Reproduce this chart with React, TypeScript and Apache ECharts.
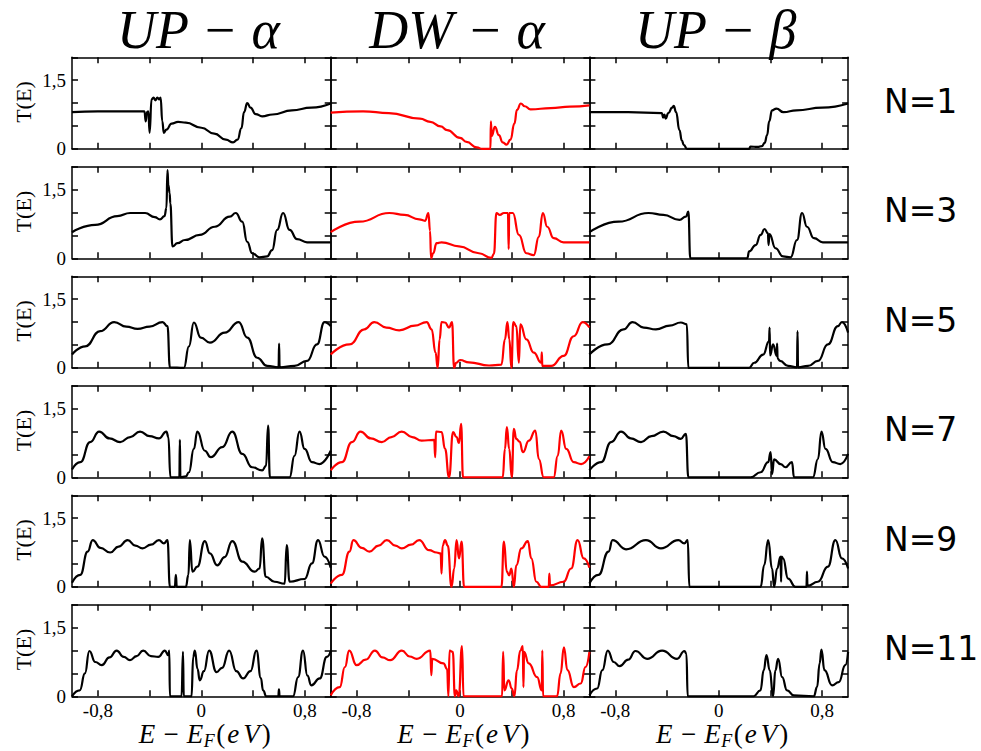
import React, { useEffect, useRef } from "react";
import * as echarts from "echarts";

// ---------- tick / label values ----------
const xTickValues = [-0.8, -0.4, 0, 0.4, 0.8];
const xLabelValues = [-0.8, 0, 0.8];
const yLabelValues = [0, 1.5];
const columnTitles = ["UP − α", "DW − α", "UP − β"];
const rowLabels = ["N=1", "N=3", "N=5", "N=7", "N=9", "N=11"];
const columnColors = ["#000000", "#ff0000", "#000000"];

// ---------- data: [E - E_F (eV), T(E)] ----------
const UPa_N1 = [[-1,0.8],[-0.8,0.82],[-0.6,0.82],[-0.44,0.82],[-0.43,0.6],[-0.42,0.8],[-0.41,0.82],[-0.4,0.35],[-0.385,1.08],[-0.37,1.12],[-0.355,1.06],[-0.34,1.12],[-0.325,1.08],[-0.315,1.12],[-0.302,0.6],[-0.29,0.35],[-0.27,0.42],[-0.23,0.55],[-0.18,0.59],[-0.12,0.57],[0,0.46],[0.1,0.33],[0.19,0.2],[0.245,0.14],[0.28,0.2],[0.31,0.45],[0.33,0.8],[0.355,1.0],[0.38,0.9],[0.42,0.76],[0.47,0.71],[0.55,0.75],[0.7,0.84],[0.85,0.9],[1,0.99]];
const DWa_N1 = [[-1,0.79],[-0.75,0.82],[-0.55,0.78],[-0.31,0.66],[-0.23,0.59],[-0.15,0.49],[-0.1,0.41],[0,0.24],[0.05,0.15],[0.13,0.03],[0.17,0],[0.235,0],[0.238,0.6],[0.245,0.28],[0.27,0.48],[0.3,0.3],[0.33,0.14],[0.36,0.09],[0.39,0.2],[0.42,0.55],[0.44,0.85],[0.47,0.99],[0.5,0.93],[0.545,0.86],[0.7,0.89],[0.85,0.92],[1,0.95]];
const UPb_N1 = [[-1,0.8],[-0.7,0.8],[-0.44,0.78],[-0.43,0.68],[-0.42,0.75],[-0.41,0.66],[-0.39,0.78],[-0.36,0.9],[-0.348,0.94],[-0.33,0.8],[-0.304,0.41],[-0.285,0.18],[-0.27,0.08],[-0.245,0],[0.235,0],[0.245,0.05],[0.3,0.04],[0.335,0.06],[0.355,0.13],[0.374,0.3],[0.39,0.6],[0.412,0.84],[0.446,0.88],[0.5,0.8],[0.6,0.84],[0.8,0.9],[1,0.99]];

const UPa_N3 = [[-1,0.57],[-0.82,0.73],[-0.65,0.92],[-0.55,0.99],[-0.435,0.99],[-0.36,0.9],[-0.32,0.85],[-0.285,0.92],[-0.27,1.1],[-0.262,1.93],[-0.255,1.6],[-0.245,1.42],[-0.24,1.2],[-0.223,0.26],[-0.185,0.33],[-0.127,0.4],[-0.012,0.51],[0.104,0.69],[0.22,0.91],[0.266,0.99],[0.316,0.8],[0.355,0.36],[0.393,0.11],[0.45,0.02],[0.509,0.04],[0.547,0.18],[0.586,0.62],[0.632,0.99],[0.682,0.62],[0.74,0.42],[0.817,0.35],[1,0.35]];
const DWa_N3 = [[-1,0.57],[-0.778,0.8],[-0.547,0.99],[-0.43,0.95],[-0.316,0.85],[-0.27,0.82],[-0.245,0.99],[-0.232,0.6],[-0.224,0],[-0.208,0.11],[-0.181,0.33],[-0.143,0.35],[-0.008,0.26],[0.146,0.11],[0.243,0.01],[0.262,0.1],[0.281,0.99],[0.308,0.95],[0.339,0.99],[0.37,0.99],[0.376,0.2],[0.38,0.99],[0.408,0.99],[0.455,0.51],[0.513,0.11],[0.57,0.07],[0.609,0.47],[0.64,0.99],[0.674,0.69],[0.724,0.44],[0.8,0.35],[1,0.35]];
const UPb_N3 = [[-1,0.57],[-0.775,0.8],[-0.543,0.99],[-0.428,0.95],[-0.304,0.84],[-0.254,0.91],[-0.235,1.02],[-0.22,0],[0.22,0],[0.235,0.15],[0.285,0.29],[0.324,0.51],[0.354,0.64],[0.38,0.55],[0.385,0.29],[0.392,0.53],[0.439,0.22],[0.497,0.04],[0.555,0.02],[0.605,0.4],[0.644,0.99],[0.682,0.69],[0.736,0.44],[0.805,0.35],[1,0.35]];

const UPa_N5 = [[-1,0.29],[-0.898,0.47],[-0.782,0.8],[-0.674,1.0],[-0.58,0.9],[-0.493,0.85],[-0.4,0.9],[-0.3,1.0],[-0.262,0.91],[-0.243,0.01],[-0.135,0],[-0.096,0.47],[-0.058,0.99],[-0.004,0.66],[0.066,0.55],[0.181,0.77],[0.289,1.0],[0.355,0.66],[0.432,0.22],[0.509,0.04],[0.597,0.01],[0.601,0.53],[0.605,0.01],[0.72,0.04],[0.817,0.15],[0.894,0.51],[0.952,1.0],[1,0.91]];
const DWa_N5 = [[-1,0.29],[-0.855,0.51],[-0.74,0.84],[-0.663,1.0],[-0.57,0.88],[-0.47,0.82],[-0.35,0.92],[-0.258,1.0],[-0.22,0.84],[-0.189,0.33],[-0.173,0],[-0.158,0.62],[-0.143,1.0],[-0.116,0.99],[-0.085,0.88],[-0.062,1.0],[-0.046,0],[-0.03,0.11],[0,0.17],[0.069,0.12],[0.224,0.05],[0.32,0.07],[0.347,0.62],[0.366,1.0],[0.381,0.62],[0.397,0],[0.412,1.0],[0.435,0.91],[0.455,0.11],[0.466,0.95],[0.513,0.62],[0.57,0.33],[0.628,0.11],[0.632,0.34],[0.636,0.04],[0.705,0.04],[0.801,0.26],[0.879,0.69],[0.948,1.0],[1,0.88]];
const UPb_N5 = [[-1,0.29],[-0.86,0.51],[-0.736,0.84],[-0.667,1.0],[-0.58,0.88],[-0.486,0.84],[-0.38,0.92],[-0.293,0.99],[-0.247,0.95],[-0.235,0],[0.235,0],[0.274,0.11],[0.343,0.29],[0.389,0.58],[0.393,0.88],[0.397,0.27],[0.42,0.51],[0.448,0.26],[0.451,0.53],[0.455,0.2],[0.474,0.15],[0.536,0.04],[0.605,0.01],[0.609,0.8],[0.613,0.01],[0.69,0.04],[0.767,0.15],[0.844,0.51],[0.921,0.91],[0.952,1.0],[1,0.77]];

const UPa_N7 = [[-1,0.17],[-0.936,0.33],[-0.86,0.77],[-0.79,1.0],[-0.71,0.85],[-0.628,0.77],[-0.55,0.88],[-0.474,1.0],[-0.4,0.9],[-0.328,0.85],[-0.27,1.0],[-0.255,0.88],[-0.239,0],[-0.17,0],[-0.166,0.82],[-0.162,0],[-0.12,0.02],[-0.096,0.11],[-0.058,0.62],[-0.031,1.0],[0.027,0.58],[0.073,0.44],[0.162,0.66],[0.239,1.0],[0.316,0.51],[0.393,0.22],[0.47,0.15],[0.5,0.25],[0.516,1.13],[0.53,0],[0.682,0],[0.72,0.47],[0.759,1.0],[0.798,0.62],[0.855,0.33],[0.913,0.29],[1,0.58]];
const DWa_N7 = [[-1,0.15],[-0.913,0.33],[-0.836,0.77],[-0.77,1.0],[-0.69,0.85],[-0.605,0.77],[-0.53,0.88],[-0.451,1.0],[-0.37,0.88],[-0.297,0.8],[-0.2,0.82],[-0.192,0.44],[-0.186,1.0],[-0.143,0.99],[-0.116,0.62],[-0.085,0],[-0.054,0.99],[-0.027,0.88],[-0.008,0.75],[0.008,1.17],[0.023,0],[0.33,0],[0.347,0.62],[0.362,1.1],[0.38,0.62],[0.4,0],[0.416,1.06],[0.435,0.84],[0.46,0.78],[0.486,0.55],[0.532,0.8],[0.582,1.02],[0.609,0.4],[0.647,0],[0.724,0],[0.755,0.47],[0.782,1.02],[0.821,0.62],[0.879,0.33],[0.936,0.29],[1,0.46]];
const UPb_N7 = [[-1,0.15],[-0.909,0.33],[-0.832,0.77],[-0.755,1.0],[-0.68,0.85],[-0.601,0.77],[-0.52,0.9],[-0.428,1.0],[-0.35,0.9],[-0.293,0.84],[-0.254,0.95],[-0.235,0],[0.247,0],[0.324,0.11],[0.382,0.33],[0.401,0.55],[0.412,0.07],[0.428,0.39],[0.478,0.29],[0.516,0.22],[0.566,0.33],[0.582,0],[0.728,0],[0.767,0.4],[0.794,1.0],[0.825,0.62],[0.882,0.33],[0.94,0.29],[1,0.51]];

const UPa_N9 = [[-1,0.09],[-0.936,0.26],[-0.879,0.77],[-0.84,1.02],[-0.78,0.85],[-0.705,0.75],[-0.64,0.88],[-0.57,1.02],[-0.51,0.9],[-0.455,0.84],[-0.39,0.92],[-0.328,1.02],[-0.289,0.95],[-0.262,1.02],[-0.243,0],[-0.205,0],[-0.197,0.26],[-0.19,0],[-0.12,0],[-0.1,0.26],[-0.089,1.02],[-0.069,0.33],[-0.031,0.44],[0.027,1.0],[0.066,0.73],[0.123,0.47],[0.18,0.65],[0.239,1.0],[0.316,0.55],[0.412,0.33],[0.45,0.4],[0.47,1.06],[0.497,0.22],[0.566,0.11],[0.644,0.07],[0.66,0.91],[0.682,0.11],[0.798,0.17],[0.855,0.51],[0.902,1.02],[0.952,0.66],[1,0.42]];
const DWa_N9 = [[-1,0.07],[-0.913,0.26],[-0.855,0.77],[-0.825,1.02],[-0.76,0.85],[-0.701,0.77],[-0.63,0.9],[-0.566,1.02],[-0.5,0.9],[-0.451,0.84],[-0.38,0.92],[-0.316,1.02],[-0.239,0.8],[-0.181,0.75],[-0.15,0.73],[-0.143,0.29],[-0.135,0.9],[-0.116,1.02],[-0.095,0.9],[-0.066,0],[-0.045,0.4],[-0.027,1.02],[-0.008,0.62],[0.012,0.99],[0.031,0],[0.32,0],[0.339,0.99],[0.362,0.33],[0.38,0.25],[0.397,0.4],[0.416,0],[0.435,0.47],[0.474,0.84],[0.524,1.0],[0.551,0.62],[0.59,0.11],[0.628,0],[0.686,0],[0.69,0.29],[0.696,0.03],[0.801,0.11],[0.859,0.4],[0.909,1.02],[0.956,0.62],[1,0.42]];
const UPb_N9 = [[-1,0.07],[-0.93,0.26],[-0.852,0.77],[-0.821,1.02],[-0.717,0.82],[-0.563,1.02],[-0.447,0.84],[-0.312,1.02],[-0.266,0.95],[-0.24,1.02],[-0.227,0],[0.324,0],[0.351,0.47],[0.382,1.02],[0.412,0.4],[0.428,0],[0.451,0.4],[0.478,0.66],[0.482,0.11],[0.486,0.66],[0.497,0.62],[0.536,0.18],[0.593,0],[0.678,0],[0.682,0.33],[0.686,0.02],[0.767,0.11],[0.844,0.44],[0.902,1.02],[0.952,0.62],[1,0.4]];

const UPa_N11 = [[-1,0],[-0.94,0.13],[-0.9,0.5],[-0.866,0.99],[-0.82,0.75],[-0.77,0.68],[-0.71,0.85],[-0.655,1.0],[-0.6,0.86],[-0.552,0.79],[-0.5,0.88],[-0.45,1.0],[-0.39,0.88],[-0.333,0.86],[-0.282,1.0],[-0.256,0.9],[-0.248,1.0],[-0.243,0],[-0.153,0],[-0.142,0.97],[-0.136,0],[-0.076,0],[-0.063,0.86],[-0.05,1.0],[-0.03,0.6],[-0.012,0.35],[0.02,0.55],[0.06,1.0],[0.117,0.53],[0.16,0.62],[0.215,1.0],[0.27,0.55],[0.323,0.39],[0.38,0.55],[0.426,1.0],[0.46,0.4],[0.477,0.13],[0.503,0],[0.595,0],[0.6,0.15],[0.605,0],[0.709,0],[0.748,0.42],[0.786,1.0],[0.82,0.45],[0.85,0.24],[0.915,0.39],[0.97,0.86],[1,0.99]];
const DWa_N11 = [[-1,0.02],[-0.93,0.2],[-0.89,0.64],[-0.857,1.0],[-0.8,0.68],[-0.73,0.8],[-0.658,1.0],[-0.6,0.85],[-0.54,0.79],[-0.45,1.0],[-0.39,0.87],[-0.335,0.82],[-0.23,1.0],[-0.222,0.46],[-0.215,0.82],[-0.128,0.72],[-0.1,0.6],[-0.09,0],[-0.081,1.0],[-0.056,0.97],[-0.04,0],[-0.03,0.13],[-0.01,0],[0.015,1.1],[0.027,0],[0.325,0],[0.333,0.97],[0.343,0.13],[0.375,0.35],[0.4,0.17],[0.42,0],[0.44,0.57],[0.466,1.0],[0.485,1.1],[0.49,0.2],[0.495,0.97],[0.531,0.72],[0.596,0.42],[0.632,0.13],[0.636,1.0],[0.642,0],[0.75,0],[0.777,0.5],[0.803,1.07],[0.83,0.57],[0.88,0.2],[0.933,0.28],[0.97,0.64],[1,0.97]];
const UPb_N11 = [[-1,0.02],[-0.94,0.17],[-0.9,0.57],[-0.858,1.0],[-0.812,0.75],[-0.766,0.66],[-0.7,0.8],[-0.644,0.99],[-0.554,0.82],[-0.438,1.0],[-0.322,0.82],[-0.265,0.99],[-0.25,0.93],[-0.24,0],[0.27,0],[0.322,0.13],[0.348,0.57],[0.369,0.9],[0.394,0.57],[0.42,0],[0.438,0.57],[0.459,0.82],[0.49,0.42],[0.528,0.13],[0.58,0.02],[0.735,0],[0.76,0.2],[0.78,0.72],[0.794,1.02],[0.817,0.57],[0.876,0.24],[0.928,0.31],[0.979,0.68],[1,0.97]];

const panelData = [
  [UPa_N1, DWa_N1, UPb_N1],
  [UPa_N3, DWa_N3, UPb_N3],
  [UPa_N5, DWa_N5, UPb_N5],
  [UPa_N7, DWa_N7, UPb_N7],
  [UPa_N9, DWa_N9, UPb_N9],
  [UPa_N11, DWa_N11, UPb_N11],
];

// ---------- layout ----------
const GRID_LEFT0 = 72;
const GRID_W = 258.7;
const GRID_TOP0 = 57.3;
const GRID_H = 91.5;
const ROW_STEP = 109.5;
const SERIF = "'Liberation Serif', 'DejaVu Serif', serif";

const fmt = (v: number) => String(v).replace(".", ",");

function buildOption() {
  const grid: any[] = [];
  const xAxis: any[] = [];
  const yAxis: any[] = [];
  const series: any[] = [];
  const graphic: any[] = [];
  const frame = { color: "#000", width: 1.5 };

  panelData.forEach((row, r) => {
    row.forEach((data, c) => {
      const i = grid.length;
      const left = GRID_LEFT0 + c * GRID_W;
      const top = GRID_TOP0 + r * ROW_STEP;
      grid.push({ left, top, width: GRID_W, height: GRID_H, containLabel: false });
      const xBase = {
        type: "value", gridIndex: i, min: -1, max: 1,
        axisLine: { show: true, onZero: false, lineStyle: frame },
        axisTick: { show: true, inside: true, length: 6, customValues: xTickValues, lineStyle: frame },
        splitLine: { show: false },
      };
      xAxis.push({
        ...xBase, position: "bottom",
        axisLabel: {
          show: r === panelData.length - 1, customValues: xLabelValues, formatter: fmt,
          fontFamily: SERIF, fontSize: 19, color: "#000", margin: 5,
        },
      });
      xAxis.push({ ...xBase, position: "top", axisLabel: { show: false } });
      const yBase = {
        type: "value", gridIndex: i, min: 0, max: 2, interval: 0.5,
        axisLine: { show: true, onZero: false, lineStyle: frame },
        axisTick: { show: true, inside: true, length: 6, lineStyle: frame },
        splitLine: { show: false },
      };
      yAxis.push({
        ...yBase, position: "left",
        axisLabel: {
          show: c === 0, customValues: yLabelValues, formatter: fmt,
          fontFamily: SERIF, fontSize: 19, color: "#000", margin: 6,
        },
      });
      yAxis.push({ ...yBase, position: "right", axisLabel: { show: false } });
      series.push({
        type: "line", xAxisIndex: 2 * i, yAxisIndex: 2 * i, data,
        showSymbol: false, symbol: "none", smooth: 0.5, smoothMonotone: "x", clip: true,
        lineStyle: { color: columnColors[c], width: 2.2 },
      });
    });

    const rowCenter = GRID_TOP0 + r * ROW_STEP + GRID_H / 2;
    graphic.push({
      type: "text", x: 884, y: rowCenter - 2,
      style: { text: rowLabels[r], fill: "#000", font: "33px 'DejaVu Sans'", textAlign: "left", textVerticalAlign: "middle", align: "left", verticalAlign: "middle" },
    });
    graphic.push({
      type: "text", x: 23, y: rowCenter - 1, rotation: Math.PI / 2,
      style: { text: "T(E)", fill: "#000", fontFamily: SERIF, fontSize: 22, textAlign: "center", textVerticalAlign: "middle", align: "center", verticalAlign: "middle" },
    });
  });

  columnTitles.forEach((t, c) => {
    const cc = GRID_LEFT0 + c * GRID_W + GRID_W / 2;
    graphic.push({
      type: "text", x: cc - 3, y: 30,
      style: { text: t, fill: "#000", fontFamily: SERIF, fontStyle: "italic", fontSize: 54, textAlign: "center", textVerticalAlign: "middle", align: "center", verticalAlign: "middle" },
    });
    const xTitleY = 734;
    graphic.push({
      type: "text", x: cc + 2, y: xTitleY,
      style: { text: "E − E", fill: "#000", fontFamily: SERIF, fontStyle: "italic", fontSize: 27, textAlign: "right", textVerticalAlign: "middle", align: "right", verticalAlign: "middle" },
    });
    graphic.push({
      type: "text", x: cc + 2.5, y: xTitleY + 7,
      style: { text: "F", fill: "#000", fontFamily: SERIF, fontStyle: "italic", fontSize: 18, textAlign: "left", textVerticalAlign: "middle", align: "left", verticalAlign: "middle" },
    });
    graphic.push({
      type: "text", x: cc + 15, y: xTitleY,
      style: {
        text: "{n|(}{i|e}{i|V}{n|)}", fill: "#000", textAlign: "left", textVerticalAlign: "middle", align: "left", verticalAlign: "middle",
        rich: {
          n: { fontFamily: SERIF, fontSize: 27, fill: "#000", color: "#000" },
          i: { fontFamily: SERIF, fontSize: 27, fontStyle: "italic", fill: "#000", color: "#000", padding: [0, 2, 0, 2] },
        },
      },
    });
  });

  return {
    animation: false,
    backgroundColor: "#ffffff",
    grid, xAxis, yAxis, series, graphic,
  };
}

export default function App() {
  const ref = useRef<HTMLDivElement>(null);
  useEffect(() => {
    if (!ref.current) return;
    const chart = echarts.init(ref.current, null, { renderer: "svg" });
    chart.setOption(buildOption() as any);
    return () => chart.dispose();
  }, []);
  return (
    <div
      ref={ref}
      style={{ position: "absolute", left: 0, top: 0, width: 981, height: 751, background: "#fff" }}
    />
  );
}
